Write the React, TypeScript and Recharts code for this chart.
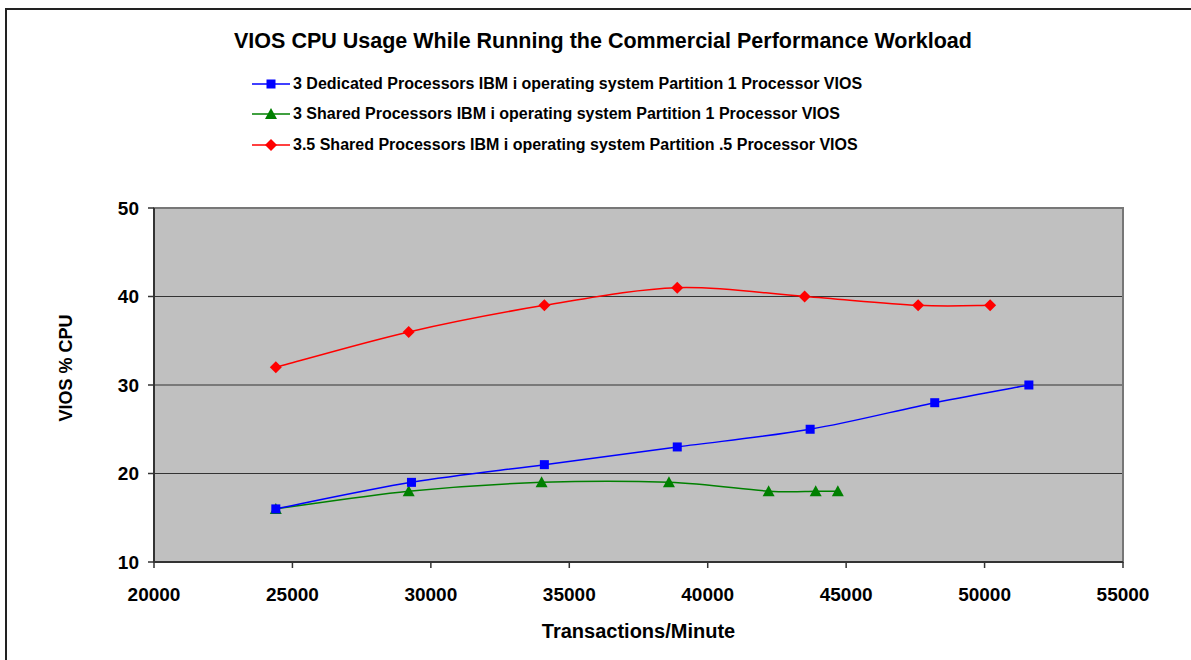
import React from "react";
import { CartesianGrid, Label, Line, LineChart, ReferenceArea, XAxis, YAxis } from "recharts";

const seriesNames = [
  "3 Dedicated Processors IBM i operating system Partition 1 Processor VIOS",
  "3 Shared Processors IBM i operating system Partition 1 Processor VIOS",
  "3.5 Shared Processors IBM i operating system Partition .5 Processor VIOS",
];

const dedicatedTpm = [24400, 29300, 34100, 38900, 43700, 48200, 51600];
const dedicatedCpu = [16, 19, 21, 23, 25, 28, 30];
const sharedTpm = [24400, 29200, 34000, 38600, 42200, 43900, 44700];
const sharedCpu = [16, 18, 19, 19, 18, 18, 18];
const halfTpm = [24400, 29200, 34100, 38900, 43500, 47600, 50200];
const halfCpu = [32, 36, 39, 41, 40, 39, 39];

const xTicks = [20000, 25000, 30000, 35000, 40000, 45000, 50000, 55000];
const yTicks = [10, 20, 30, 40, 50];

const FONT = '"Liberation Sans", Arial, sans-serif';
const colours = ["#0000FF", "#008000", "#FF0000"];

const toPoints = (xs: number[], ys: number[]) => xs.map((x, i) => ({ x, y: ys[i] }));
const dedicated = toPoints(dedicatedTpm, dedicatedCpu);
const shared = toPoints(sharedTpm, sharedCpu);
const half = toPoints(halfTpm, halfCpu);

// Excel style smoothed line (catmull-rom like bezier)
const excelSmooth = (context: any) => {
  let pts: number[][] = [];
  return {
    areaStart() {},
    areaEnd() {},
    lineStart() { pts = []; },
    point(x: number, y: number) { pts.push([+x, +y]); },
    lineEnd() {
      if (!pts.length) return;
      context.moveTo(pts[0][0], pts[0][1]);
      for (let i = 0; i < pts.length - 1; i++) {
        const p0 = pts[Math.max(i - 1, 0)], p1 = pts[i], p2 = pts[i + 1], p3 = pts[Math.min(i + 2, pts.length - 1)];
        context.bezierCurveTo(
          p1[0] + (p2[0] - p0[0]) / 6, p1[1] + (p2[1] - p0[1]) / 6,
          p2[0] - (p3[0] - p1[0]) / 6, p2[1] - (p3[1] - p1[1]) / 6,
          p2[0], p2[1]
        );
      }
    },
  };
};

function Marker({ kind, cx, cy }: { kind: number; cx: number; cy: number }) {
  if (kind === 0) return <rect x={cx - 4.5} y={cy - 4.5} width={9} height={9} fill={colours[0]} />;
  if (kind === 1) return <polygon points={`${cx},${cy - 6} ${cx + 6},${cy + 5} ${cx - 6},${cy + 5}`} fill={colours[1]} />;
  return <polygon points={`${cx},${cy - 6} ${cx + 6},${cy} ${cx},${cy + 6} ${cx - 6},${cy}`} fill={colours[2]} />;
}

const dotFor = (kind: number) => (p: any) => <Marker key={p.index} kind={kind} cx={p.cx} cy={p.cy} />;

function LegendBox() {
  const rowTops = [84, 114, 145];
  return (
    <>
      {seriesNames.map((name, i) => (
        <div
          key={name}
          style={{ position: "absolute", left: 252, top: rowTops[i] - 10, height: 20, display: "flex", alignItems: "center", fontFamily: FONT, fontWeight: "bold", fontSize: 16, whiteSpace: "nowrap" }}
        >
          <svg width={38} height={14} style={{ marginRight: 3 }}>
            <line x1={0} y1={7} x2={38} y2={7} stroke={colours[i]} strokeWidth={1.5} />
            <Marker kind={i} cx={19} cy={7} />
          </svg>
          <span>{name}</span>
        </div>
      ))}
    </>
  );
}

export default function App() {
  const axisText = { fontFamily: FONT, fontWeight: "bold", fontSize: 19, fill: "#000" };
  const titleText = { fontFamily: FONT, fontWeight: "bold", fontSize: 20, fill: "#000" };
  return (
    <div style={{ position: "absolute", left: 0, top: 0, width: 1191, height: 660, overflow: "hidden", background: "#fff" }}>
      <div style={{ position: "absolute", left: 5, top: 8, width: 1200, height: 700, border: "2px solid #222" }} />
      <div style={{ position: "absolute", left: 0, top: 30, width: 1206, textAlign: "center", fontFamily: FONT, fontWeight: "bold", fontSize: 21.5, lineHeight: "22px", whiteSpace: "nowrap" }}>
        VIOS CPU Usage While Running the Commercial Performance Workload
      </div>
      <LegendBox />
      <LineChart width={1191} height={660} margin={{ top: 208, right: 68, bottom: 68, left: 94 }} style={{ position: "absolute", left: 0, top: 0 }}>
        <CartesianGrid vertical={false} fill="#C0C0C0" stroke="#333" strokeWidth={1} horizontalValues={[20, 30, 40]} />
        <ReferenceArea x1={20000} x2={55000} y1={10} y2={50} fill="none" stroke="#777" strokeWidth={2} />
        <XAxis
          type="number"
          dataKey="x"
          domain={[20000, 55000]}
          ticks={xTicks}
          allowDataOverflow
          height={30}
          tickSize={6}
          tickMargin={20}
          tick={axisText}
          axisLine={{ stroke: "#333", strokeWidth: 2 }}
          tickLine={{ stroke: "#333", strokeWidth: 1.5 }}
        >
          <Label value="Transactions/Minute" position="bottom" offset={32} style={titleText} />
        </XAxis>
        <YAxis
          type="number"
          domain={[10, 50]}
          ticks={yTicks}
          width={60}
          tickSize={6}
          tickMargin={9}
          tick={axisText}
          axisLine={{ stroke: "#333", strokeWidth: 2 }}
          tickLine={{ stroke: "#333", strokeWidth: 1.5 }}
        >
          <Label
            content={() => (
              <text x={66} y={368} transform="rotate(-90 66 368)" textAnchor="middle" dominantBaseline="central" style={{ ...titleText, fontSize: 18 }}>
                VIOS % CPU
              </text>
            )}
          />
        </YAxis>
        <Line data={half} dataKey="y" type={excelSmooth as any} stroke={colours[2]} strokeWidth={1.5} dot={dotFor(2)} activeDot={false} isAnimationActive={false} />
        <Line data={shared} dataKey="y" type={excelSmooth as any} stroke={colours[1]} strokeWidth={1.5} dot={dotFor(1)} activeDot={false} isAnimationActive={false} />
        <Line data={dedicated} dataKey="y" type={excelSmooth as any} stroke={colours[0]} strokeWidth={1.5} dot={dotFor(0)} activeDot={false} isAnimationActive={false} />
      </LineChart>
    </div>
  );
}
